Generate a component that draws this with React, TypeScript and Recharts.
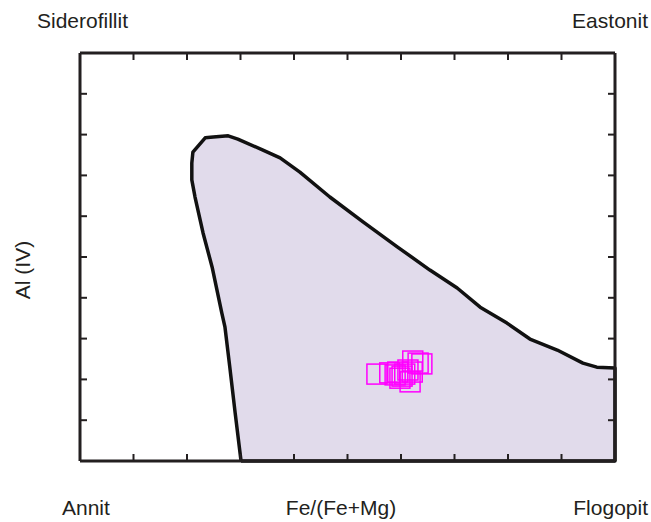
import { ScatterChart, Scatter, XAxis, YAxis, ReferenceLine } from 'recharts';

// Fe/(Fe+Mg) vs Al(IV) biotite classification field
const fieldX = [0.301, 0.29, 0.28, 0.271, 0.265, 0.247, 0.23, 0.215, 0.209, 0.209, 0.211, 0.234, 0.249, 0.277, 0.295, 0.342, 0.374, 0.411, 0.467, 0.529, 0.593, 0.654, 0.705, 0.748, 0.798, 0.841, 0.892, 0.94, 0.966, 1.0, 1.0, 0.301];
const fieldY = [2.0, 2.118, 2.23, 2.328, 2.363, 2.475, 2.559, 2.647, 2.689, 2.73, 2.757, 2.792, 2.794, 2.797, 2.789, 2.762, 2.743, 2.708, 2.647, 2.586, 2.525, 2.468, 2.424, 2.377, 2.338, 2.299, 2.272, 2.24, 2.23, 2.228, 2.0, 2.0];

// measured samples
const sampleX = [0.555, 0.579, 0.589, 0.594, 0.602, 0.607, 0.613, 0.621, 0.622, 0.632, 0.639, 0.617, 0.598];
const sampleY = [2.213, 2.216, 2.211, 2.218, 2.208, 2.213, 2.223, 2.218, 2.245, 2.24, 2.238, 2.194, 2.203];

const xTicks = [0, 0.1, 0.2, 0.3, 0.4, 0.5, 0.6, 0.7, 0.8, 0.9, 1];
const yTicks = [2, 2.1, 2.2, 2.3, 2.4, 2.5, 2.6, 2.7, 2.8, 2.9, 3];

const fieldData = fieldX.map((x, i) => ({ x, y: fieldY[i] }));
const sampleData = sampleX.map((x, i) => ({ x, y: sampleY[i] }));
// anchor points for the ticks on the top and right sides of the frame
const topTickData = xTicks.slice(1, -1).map((x) => ({ x, y: 3 }));
const rightTickData = yTicks.slice(1, -1).map((y) => ({ x: 1, y }));

const INK = '#231f20';
const FIELD = '#e1dbeb';
const MAGENTA = '#ff00ff';
const FONT = 'Arial, "Liberation Sans", sans-serif';

const WIDTH = 651;
const HEIGHT = 522;
const MARGIN = { top: 53, right: 36, bottom: 61, left: 80 };
const TICK = 7;

// the labels sit right at the window edges, so drop the default body margin
if (typeof document !== 'undefined') document.body.style.margin = '0';

interface PointProps {
  cx?: number;
  cy?: number;
}

const Square = ({ cx = 0, cy = 0 }: PointProps) => (
  <rect x={cx - 10} y={cy - 10} width={20} height={20} fill="none" stroke={MAGENTA} strokeWidth={1.5} />
);

const TopTick = ({ cx = 0, cy = 0 }: PointProps) => (
  <line x1={cx} x2={cx} y1={cy} y2={cy + TICK} stroke={INK} strokeWidth={2} />
);

const RightTick = ({ cx = 0, cy = 0 }: PointProps) => (
  <line x1={cx - TICK} x2={cx} y1={cy} y2={cy} stroke={INK} strokeWidth={2} />
);

const axisLine = { stroke: INK, strokeWidth: 3 };
const tickLine = { stroke: INK, strokeWidth: 2 };
const noLabel = () => '';
const noShape = () => <g />;

export default function App() {
  return (
    <div style={{ position: 'relative', width: WIDTH, height: HEIGHT }}>
      <ScatterChart width={WIDTH} height={HEIGHT} margin={MARGIN}>
        <Scatter
          data={fieldData}
          line={{ fill: FIELD, stroke: '#111', strokeWidth: 3.5, strokeLinejoin: 'round' }}
          lineType="joint"
          shape={noShape}
          legendType="none"
          zIndex={100}
          isAnimationActive={false}
        />
        <Scatter data={sampleData} shape={<Square />} isAnimationActive={false} />
        <XAxis type="number" dataKey="x" domain={[0, 1]} ticks={xTicks} tickFormatter={noLabel} tickSize={TICK} mirror axisLine={axisLine} tickLine={tickLine} />
        <YAxis type="number" dataKey="y" domain={[2, 3]} ticks={yTicks} tickFormatter={noLabel} tickSize={TICK} mirror axisLine={axisLine} tickLine={tickLine} />
        {/* top and right sides of the frame */}
        <ReferenceLine y={3} stroke={INK} strokeWidth={3} zIndex={700} />
        <ReferenceLine x={1} stroke={INK} strokeWidth={3} zIndex={700} />
        <Scatter data={topTickData} shape={<TopTick />} legendType="none" zIndex={700} isAnimationActive={false} />
        <Scatter data={rightTickData} shape={<RightTick />} legendType="none" zIndex={700} isAnimationActive={false} />
      </ScatterChart>
      <svg width={WIDTH} height={HEIGHT} style={{ position: 'absolute', left: 0, top: 0, pointerEvents: 'none' }} fontFamily={FONT} fontSize={21} fill={INK}>
        <text x={37} y={28}>Siderofillit</text>
        <text x={648} y={28} textAnchor="end">Eastonit</text>
        <text x={62} y={515}>Annit</text>
        <text x={341} y={515} textAnchor="middle">Fe/(Fe+Mg)</text>
        <text x={648} y={515} textAnchor="end">Flogopit</text>
        <text x={30} y={270} textAnchor="middle" transform="rotate(-90, 30, 270)">Al (IV)</text>
      </svg>
    </div>
  );
}
